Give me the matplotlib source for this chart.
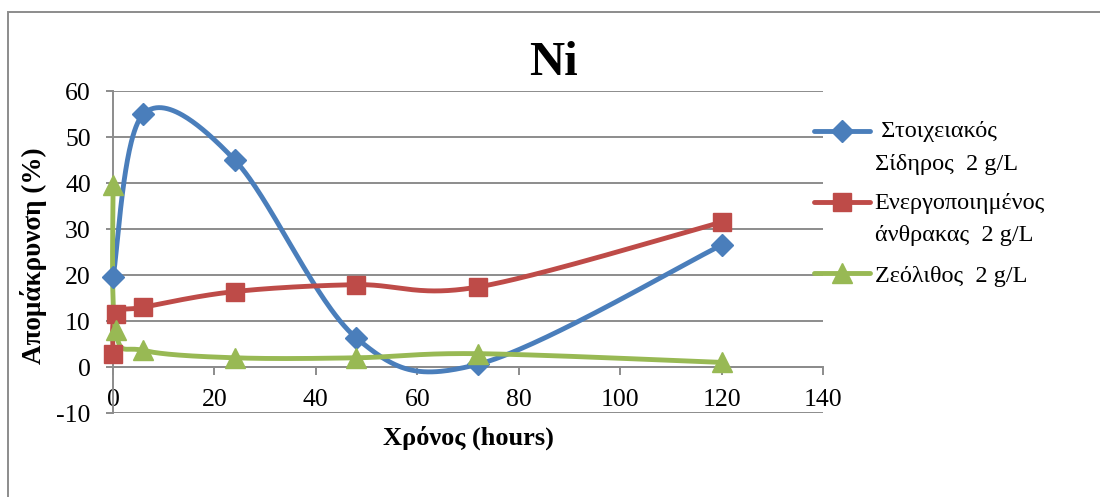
import numpy as np
import matplotlib.pyplot as plt
from matplotlib.legend_handler import HandlerLine2D
from matplotlib.lines import Line2D
from matplotlib.patches import Rectangle
from matplotlib.transforms import Affine2D

plt.rcParams["font.family"] = ["Liberation Serif", "DejaVu Serif"]
plt.rcParams["axes.unicode_minus"] = False

# removal of Ni (%) against contact time (hours)
hours_iron = [0, 6, 24, 48, 72, 120]
removal_iron = [19.5, 55, 45, 6.3, 0.6, 26.5]

hours_carbon = [0, 0.5, 6, 24, 48, 72, 120]
removal_carbon = [2.8, 11.5, 13, 16.4, 17.9, 17.4, 31.5]

hours_zeolite = [0, 0.5, 6, 24, 48, 72, 120]
removal_zeolite = [39.5, 8, 3.6, 2, 2, 2.9, 1]

series_labels = [
    " Στοιχειακός\nΣίδηρος  2 g/L",
    "Ενεργοποιημένος\nάνθρακας  2 g/L",
    "Ζεόλιθος  2 g/L",
]

GRID = "#8c8c8c"
LEGEND_SIZE = 17.5
LEGEND_LINESPACING = 1.72


def smooth(x, y, steps=60):
    # spreadsheet-style smoothed line: cubic Bezier with 1/6 tangents
    pts = np.column_stack([x, y]).astype(float)
    ext = np.vstack([pts[0], pts, pts[-1]])
    t = np.linspace(0, 1, steps)[1:, None]
    out = [pts[:1]]
    for i in range(len(pts) - 1):
        p0, p3 = ext[i + 1], ext[i + 2]
        c1 = p0 + (ext[i + 2] - ext[i]) / 6
        c2 = p3 - (ext[i + 3] - ext[i + 1]) / 6
        out.append((1 - t) ** 3 * p0 + 3 * (1 - t) ** 2 * t * c1
                   + 3 * (1 - t) * t ** 2 * c2 + t ** 3 * p3)
    curve = np.vstack(out)
    return curve[:, 0], curve[:, 1]


class FirstLineHandler(HandlerLine2D):
    """Put the legend key level with the first line of a wrapped label."""

    def __init__(self, n_lines, **kw):
        super().__init__(**kw)
        self.n_lines = n_lines

    def create_artists(self, legend, orig_handle, xdescent, ydescent,
                       width, height, fontsize, trans):
        step = LEGEND_LINESPACING * 0.79 * fontsize
        shift = 0.5 * (self.n_lines - 1) * step
        trans = Affine2D().translate(0, shift) + trans
        return super().create_artists(legend, orig_handle, xdescent, ydescent,
                                      width, height, fontsize, trans)


fig = plt.figure(figsize=(11, 4.97), dpi=100)
ax = fig.add_axes([113 / 1100, 1 - 413 / 497, 710 / 1100, 322 / 497])

styles = [
    (hours_iron, removal_iron, "#4a7ebb", "D", 11),
    (hours_carbon, removal_carbon, "#be4b48", "s", 13),
    (hours_zeolite, removal_zeolite, "#98b954", "^", 14),
]

handles = []
for (x, y, color, marker, ms), label in zip(styles, series_labels):
    sx, sy = smooth(x, y)
    ax.plot(sx, sy, color=color, lw=3.5, solid_capstyle="round", zorder=3,
            clip_on=False)
    ax.plot(x, y, ls="none", marker=marker, ms=ms, color=color, zorder=4,
            clip_on=False)
    handles.append(Line2D([], [], color=color, lw=3.5, marker=marker, ms=ms,
                          solid_capstyle="round"))

ax.set_xlim(0, 140)
ax.set_ylim(-10, 60)
ax.set_xticks(np.arange(0, 141, 20))
ax.set_yticks(np.arange(-10, 61, 10))
ax.yaxis.grid(True, color=GRID, lw=1.4)
ax.set_axisbelow(True)

for side in ("top", "right"):
    ax.spines[side].set_visible(False)
ax.spines["bottom"].set_position(("data", 0))
for side in ("left", "bottom"):
    ax.spines[side].set_color(GRID)
    ax.spines[side].set_linewidth(1.4)

ax.tick_params(axis="both", colors=GRID, labelcolor="black", labelsize=18.5,
               width=1.4, direction="out")
ax.tick_params(axis="x", length=6, pad=10)
ax.tick_params(axis="y", length=5, pad=11)

ax.set_xlabel("Χρόνος (hours)", fontsize=19, fontweight="bold", va="center")
ax.xaxis.set_label_coords(0.5, -0.078)
ax.set_ylabel("Απομάκρυνση (%)", fontsize=19.5, fontweight="bold", va="center")
ax.yaxis.set_label_coords((34 - 113) / 710, 0.49)

fig.text(553 / 1100, 1 - 63 / 497, "Ni", ha="center", va="center",
         fontsize=35, fontweight="bold")

leg = ax.legend(handles, series_labels,
                handler_map={h: FirstLineHandler(lab.count("\n") + 1)
                             for h, lab in zip(handles, series_labels)},
                loc="upper left", bbox_to_anchor=(814 / 1100, 1 - 121 / 497),
                bbox_transform=fig.transFigure, frameon=False,
                fontsize=LEGEND_SIZE, handlelength=2.3, handletextpad=0.2,
                labelspacing=0.75, borderpad=0, borderaxespad=0, numpoints=1)
for text in leg.get_texts():
    text.set_linespacing(LEGEND_LINESPACING)

fig.patches.append(Rectangle((8 / 1100, -0.1), 1.2, 1.1 - 12 / 497,
                             transform=fig.transFigure, fill=False,
                             edgecolor=GRID, lw=1.4))

fig.savefig("out.png", dpi=100)
